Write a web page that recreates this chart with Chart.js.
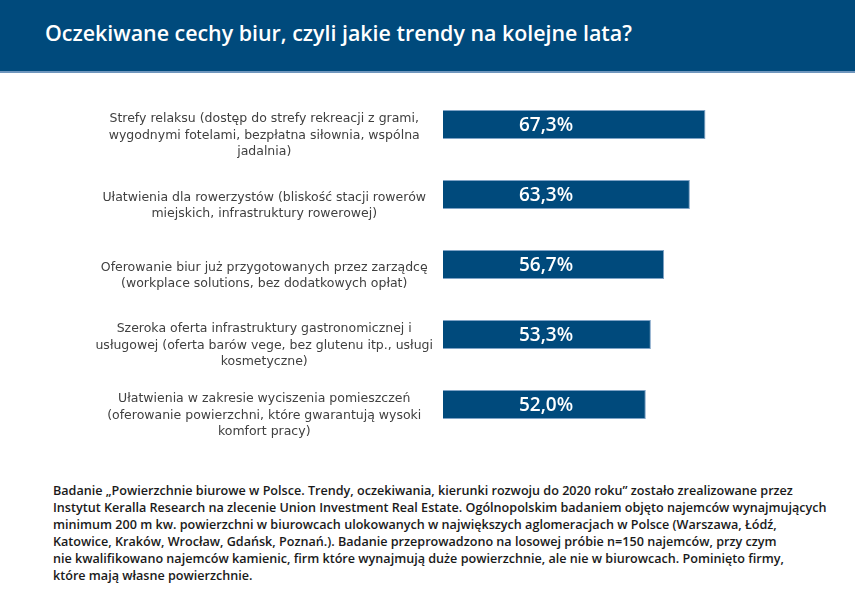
<!DOCTYPE html>
<html lang="pl">
<head>
<meta charset="utf-8">
<script src="https://cdn.jsdelivr.net/npm/chart.js@4.4.1/dist/chart.umd.min.js"></script>
<style>
  body { margin: 0; width: 855px; height: 600px; background: #fff; overflow: hidden; position: relative; }
  .header {
    position: absolute; left: 0; top: 0; width: 855px; height: 71px;
    background: #004a7c; border-bottom: 2px solid #6f96bd;
  }
  .header h1 {
    margin: 0; position: absolute; left: 45px; top: 18px;
    font-family: "Open Sans", sans-serif; font-weight: 600; font-size: 21.4px; color: #fff;
    white-space: nowrap;
  }
  .chart-box { position: absolute; left: 0; top: 72px; width: 855px; height: 400px; }
  .note {
    position: absolute; left: 53px; top: 482px;
    font-family: "Open Sans", sans-serif; font-weight: 600; font-size: 12.6px; line-height: 17px;
    color: #1a1a1a; white-space: nowrap;
  }
</style>
</head>
<body>
<div class="header"><h1>Oczekiwane cechy biur, czyli jakie trendy na kolejne lata?</h1></div>
<div class="chart-box"><canvas id="officeChart"></canvas></div>
<div class="note">
  Badanie „Powierzchnie biurowe w Polsce. Trendy, oczekiwania, kierunki rozwoju do 2020 roku” zostało zrealizowane przez<br>
  Instytut Keralla Research na zlecenie Union Investment Real Estate. Ogólnopolskim badaniem objęto najemców wynajmujących<br>
  minimum 200 m kw. powierzchni w biurowcach ulokowanych w największych aglomeracjach w Polsce (Warszawa, Łódź,<br>
  Katowice, Kraków, Wrocław, Gdańsk, Poznań.). Badanie przeprowadzono na losowej próbie n=150 najemców, przy czym<br>
  nie kwalifikowano najemców kamienic, firm które wynajmują duże powierzchnie, ale nie w biurowcach. Pominięto firmy,<br>
  które mają własne powierzchnie.
</div>
<script>
const categories = [
  ['Strefy relaksu (dostęp do strefy rekreacji z grami,', 'wygodnymi fotelami, bezpłatna siłownia, wspólna', 'jadalnia)'],
  ['Ułatwienia dla rowerzystów (bliskość stacji rowerów', 'miejskich, infrastruktury rowerowej)'],
  ['Oferowanie biur już przygotowanych przez zarządcę', '(workplace solutions, bez dodatkowych opłat)'],
  ['Szeroka oferta infrastruktury gastronomicznej i', 'usługowej (oferta barów vege, bez glutenu itp., usługi', 'kosmetyczne)'],
  ['Ułatwienia w zakresie wyciszenia pomieszczeń', '(oferowanie powierzchni, które gwarantują wysoki', 'komfort pracy)']
];
const shares = [67.3, 63.3, 56.7, 53.3, 52.0];

// napisy z wartościami wewnątrz słupków
const valueLabels = {
  id: 'valueLabels',
  afterDatasetsDraw(chart) {
    const ctx = chart.ctx;
    const meta = chart.getDatasetMeta(0);
    ctx.save();
    ctx.fillStyle = '#ffffff';
    ctx.font = '600 19px "Open Sans", sans-serif';
    ctx.textAlign = 'center';
    ctx.textBaseline = 'middle';
    meta.data.forEach((bar, i) => {
      const text = shares[i].toFixed(1).replace('.', ',') + '%';
      ctx.fillText(text, bar.base + 103, bar.y + 1);
    });
    ctx.restore();
  }
};

new Chart(document.getElementById('officeChart'), {
  type: 'bar',
  data: {
    labels: categories,
    datasets: [{
      data: shares,
      backgroundColor: '#004a7c',
      borderColor: '#7fa3c6',
      borderWidth: 1,
      barPercentage: 0.414,
      categoryPercentage: 1
    }]
  },
  options: {
    indexAxis: 'y',
    responsive: true,
    maintainAspectRatio: false,
    animation: false,
    layout: { padding: { top: 17.5, bottom: 32.5, right: 22, left: 0 } },
    plugins: {
      legend: { display: false },
      tooltip: { enabled: false }
    },
    scales: {
      x: { display: false, min: 0, max: 100 },
      y: {
        grid: { display: false, drawTicks: false },
        border: { display: false },
        afterFit(scale) {
          scale.width = 443;
          scale.paddingTop = 0;
          scale.paddingBottom = 0;
        },
        ticks: {
          crossAlign: 'center',
          padding: 10,
          labelOffset: 11,
          color: '#404040',
          font: { family: '"DejaVu Sans", sans-serif', size: 12.5, lineHeight: 1.32 }
        }
      }
    }
  },
  plugins: [valueLabels]
});
</script>
</body>
</html>
